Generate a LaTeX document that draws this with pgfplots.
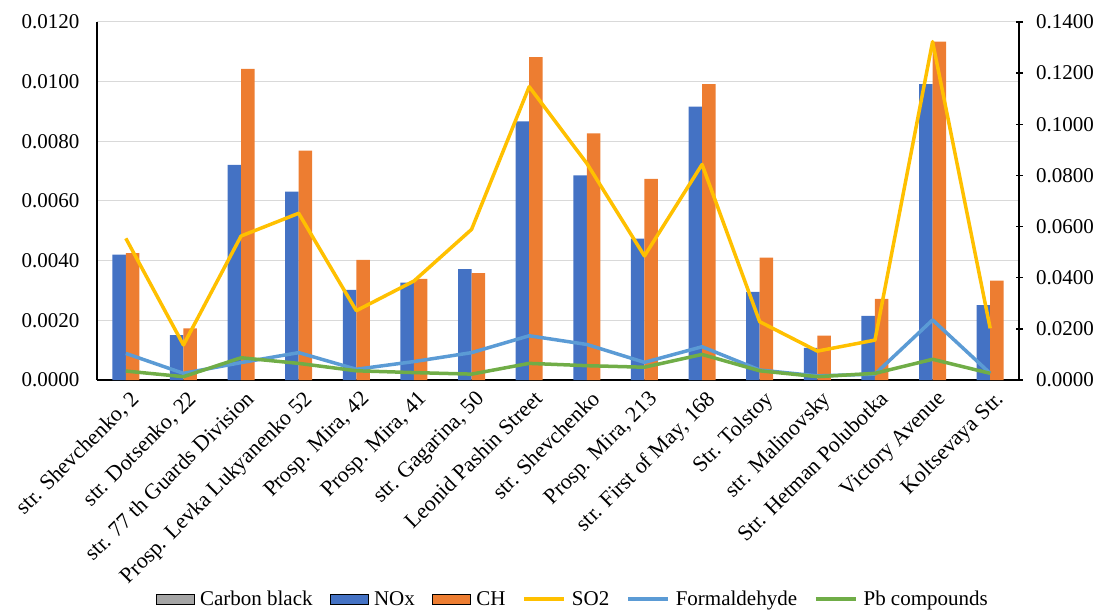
\documentclass[border=0pt]{standalone}
\usepackage{pgfplots}
\pgfplotsset{compat=1.18}
\usepackage{pgfplotstable}
\usepackage{fontspec}
\setmainfont{Liberation Serif}
\definecolor{cNOx}{HTML}{4472C4}
\definecolor{cCH}{HTML}{ED7D31}
\definecolor{cCB}{HTML}{A5A5A5}
\definecolor{cSO}{HTML}{FFC000}
\definecolor{cFo}{HTML}{5B9BD5}
\definecolor{cPb}{HTML}{70AD47}
\definecolor{cGrid}{HTML}{D9D9D9}

\pgfplotstableread{
idx NOx CH SO2 Form Pb
0 0.00420 0.00425 0.0554 0.0104 0.0035
1 0.00150 0.00173 0.0137 0.0026 0.0013
2 0.00721 0.01043 0.0563 0.0068 0.0087
3 0.00631 0.00769 0.0652 0.0107 0.0065
4 0.00302 0.00403 0.0271 0.0042 0.0036
5 0.00326 0.00339 0.0387 0.0072 0.0029
6 0.00372 0.00358 0.0589 0.0107 0.0023
7 0.00867 0.01082 0.1147 0.0173 0.0065
8 0.00686 0.00827 0.0847 0.0139 0.0056
9 0.00474 0.00674 0.0485 0.0069 0.0050
10 0.00916 0.00992 0.0843 0.0130 0.0100
11 0.00295 0.00410 0.0228 0.0039 0.0036
12 0.00108 0.00149 0.0113 0.0016 0.0013
13 0.00215 0.00272 0.0156 0.0023 0.0026
14 0.00992 0.01134 0.1323 0.0235 0.0081
15 0.00251 0.00333 0.0202 0.0026 0.0026
}\datatable

\pgfplotsset{
  barlegend/.style={legend image code/.code={\fill[##1] (0pt,-5pt) rectangle (38pt,5pt);}},
  linelegend/.style={legend image code/.code={\draw[##1, line width=3.5pt] (0pt,0pt) -- (40pt,0pt);}},
  common/.style={
    scale only axis, width=922pt, height=358pt,
    xmin=-0.5, xmax=15.5,
    ymin=0,
    tick label style={font=\fontsize{21}{24}\selectfont},
    /pgf/number format/assume math mode=true,
    /pgf/number format/.cd, fixed, fixed zerofill, precision=4,
    /pgfplots/.cd,
    scaled y ticks=false,
  },
}

\begin{document}
\begin{tikzpicture}
\begin{axis}[common, name=ax,
  ymax=0.012,
  ytick={0,0.002,0.004,0.006,0.008,0.010,0.012},
  axis x line*=bottom, axis y line*=left,
  axis line style={black, line width=1.3pt},
  ymajorgrids, grid style={cGrid, line width=1pt},
  major tick length=0pt,
  yticklabel style={xshift=-14pt},
  xtick={0,...,15},
  xticklabels={{str. Shevchenko, 2},{str. Dotsenko, 22},{str. 77 th Guards Division},{Prosp. Levka Lukyanenko 52},{Prosp. Mira, 42},{Prosp. Mira, 41},{str. Gagarina, 50},{Leonid Pashin Street},{str. Shevchenko},{Prosp. Mira, 213},{str. First of May, 168},{Str. Tolstoy},{str. Malinovsky},{Str. Hetman Polubotka},{Victory Avenue},{Koltsevaya Str.}},
  xticklabel style={rotate=45, anchor=north east, inner sep=1pt, yshift=-8pt, xshift=-3pt, font=\fontsize{22}{24}\selectfont},
  ybar, bar width=0.234,
]
\addplot[fill=cNOx, draw=none, bar shift=-0.117] table[x=idx, y=NOx] {\datatable};
\addplot[fill=cCH, draw=none, bar shift=0.117] table[x=idx, y=CH] {\datatable};
\end{axis}
\begin{axis}[common,
  ymax=0.14,
  ytick={0,0.02,0.04,0.06,0.08,0.10,0.12,0.14},
  axis y line*=right, axis x line=none,
  axis line style={black, line width=1.3pt},
  tick style={black, line width=1.3pt},
  major tick length=7pt, tick align=center,
  yticklabel style={xshift=10pt},
  legend columns=6,
  legend style={at={(0.516,-0.612)}, anchor=center, draw=none,
    font=\fontsize{21}{24}\selectfont,
    /tikz/every odd column/.append style={column sep=4pt},
    /tikz/every even column/.append style={column sep=15pt},
    nodes={inner sep=2pt}},
]
\addlegendimage{barlegend, fill=cCB}
\addlegendentry{Carbon black}
\addlegendimage{barlegend, fill=cNOx}
\addlegendentry{NOx}
\addlegendimage{barlegend, fill=cCH}
\addlegendentry{CH}
\addplot[cSO, line width=3.5pt, line join=round, linelegend] table[x=idx, y=SO2] {\datatable};
\addlegendentry{SO2}
\addplot[cFo, line width=3.5pt, line join=round, linelegend] table[x=idx, y=Form] {\datatable};
\addlegendentry{Formaldehyde}
\addplot[cPb, line width=3.5pt, line join=round, linelegend] table[x=idx, y=Pb] {\datatable};
\addlegendentry{Pb compounds}
\end{axis}
\pgfresetboundingbox
\path (ax.south west) ++(-97pt,-232pt) rectangle ++(1099pt,612pt);
\end{tikzpicture}
\end{document}
